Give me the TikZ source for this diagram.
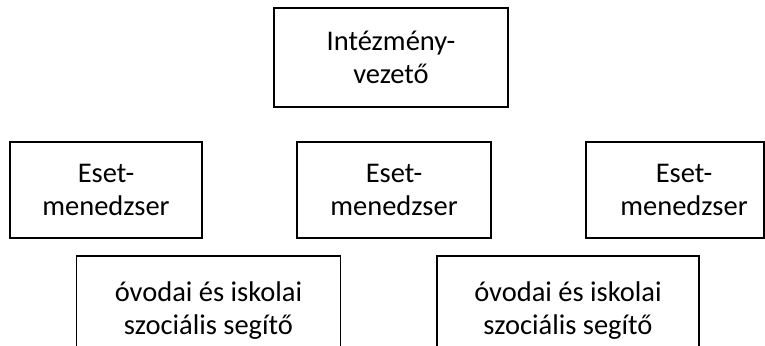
\documentclass[tikz,border=0pt]{standalone}
\usepackage{fontspec}
\setmainfont{Carlito}
\tikzset{
    caja/.style={
        draw=black, line width=0.8pt, align=center, inner sep=0pt,
        font=\fontsize{14.25pt}{16.5pt}\selectfont
    },
    caja media/.style={caja, minimum width=96pt, minimum height=48pt},
    caja baja/.style={caja, minimum width=132pt, minimum height=55pt}
}
\begin{document}
\begin{tikzpicture}[x=0.5pt, y=-0.5pt]

\useasboundingbox (0,0) rectangle (765,345);

% Centros de las cajas.
\coordinate (V) at (391, 57.5);
\coordinate (E1) at (106, 190);
\coordinate (E2) at (394, 190);
\coordinate (E3) at (675, 190);
\coordinate (S1) at (208.5, 311);
\coordinate (S2) at (568, 311);

% Caja superior.
\node[caja, minimum width=117pt, minimum height=49.5pt] (vezeto) at (V) {Intézmény-\\vezető};

% Fila de los esetmenedzserek.
\node[caja media] (eset1) at (E1) {Eset-\\menedzser};
\node[caja media, minimum width=97pt] (eset2) at (E2) {Eset-\\menedzser};
% La ultima caja queda recortada, el texto va algo a la derecha.
\node[caja media, minimum width=89pt] (eset3) at (E3) {\hspace*{9pt}Eset-\\\hspace*{9pt}menedzser};

% Fila inferior, cortada por el borde.
\node[caja baja] (segito1) at (S1) {óvodai és iskolai\\szociális segítő};
\node[caja baja, minimum width=131pt] (segito2) at (S2) {óvodai és iskolai\\szociális segítő};

\end{tikzpicture}
\end{document}
